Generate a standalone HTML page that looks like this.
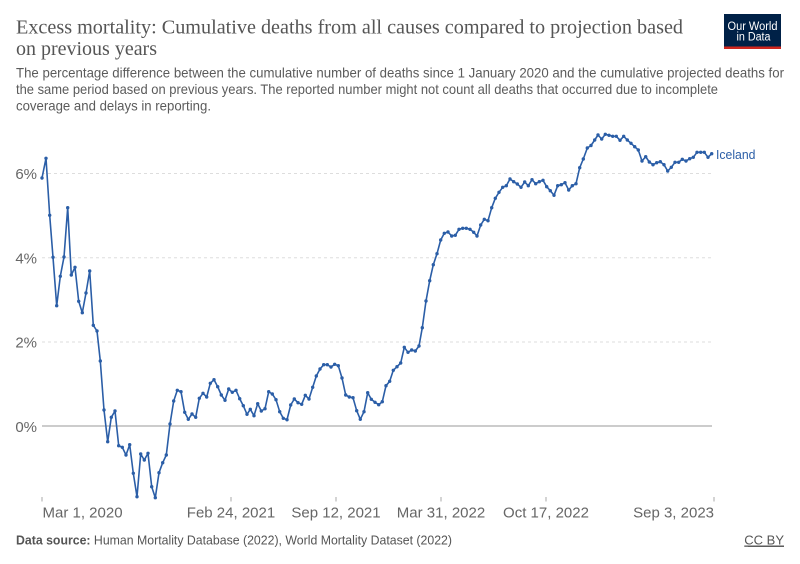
<!DOCTYPE html>
<html>
<head>
<meta charset="utf-8">
<style>
html,body{margin:0;padding:0;background:#fff;}
svg{display:block;}
</style>
</head>
<body>
<svg width="800" height="564" viewBox="0 0 800 564" xmlns="http://www.w3.org/2000/svg">
<rect x="0" y="0" width="800" height="564" fill="#fff"/>
<defs>
<marker id="d" viewBox="0 0 4 4" refX="2" refY="2" markerWidth="4" markerHeight="4" markerUnits="userSpaceOnUse">
<circle cx="2" cy="2" r="1.7" fill="#2b5ea7"/>
</marker>
</defs>

<!-- Title -->
<text x="16" y="33.3" font-family="'Liberation Serif', serif" font-size="20" fill="#555" textLength="667" lengthAdjust="spacingAndGlyphs">Excess mortality: Cumulative deaths from all causes compared to projection based</text>
<text x="16" y="55" font-family="'Liberation Serif', serif" font-size="20" fill="#555" textLength="141" lengthAdjust="spacingAndGlyphs">on previous years</text>

<!-- Subtitle -->
<g font-family="'Liberation Sans', sans-serif" font-size="13.8" fill="#5b5b5b">
<text x="16" y="77.3" textLength="768" lengthAdjust="spacingAndGlyphs">The percentage difference between the cumulative number of deaths since 1 January 2020 and the cumulative projected deaths for</text>
<text x="16" y="93.8" textLength="702" lengthAdjust="spacingAndGlyphs">the same period based on previous years. The reported number might not count all deaths that occurred due to incomplete</text>
<text x="16" y="110.3" textLength="195" lengthAdjust="spacingAndGlyphs">coverage and delays in reporting.</text>
</g>

<!-- Logo -->
<rect x="724" y="14" width="57" height="35" fill="#002147"/>
<rect x="724" y="46.5" width="57" height="2.5" fill="#ce261e"/>
<text x="752.5" y="30" text-anchor="middle" font-family="'Liberation Sans', sans-serif" font-size="11.5" fill="#fff" textLength="50" lengthAdjust="spacingAndGlyphs">Our World</text>
<text x="753.5" y="40.7" text-anchor="middle" font-family="'Liberation Sans', sans-serif" font-size="11.5" fill="#fff" textLength="34" lengthAdjust="spacingAndGlyphs">in Data</text>

<!-- Gridlines -->
<g stroke="#ddd" stroke-width="1" stroke-dasharray="3,3">
<line x1="42" y1="173.5" x2="712" y2="173.5"/>
<line x1="42" y1="257.7" x2="712" y2="257.7"/>
<line x1="42" y1="342" x2="712" y2="342"/>
</g>
<line x1="42" y1="426" x2="712" y2="426" stroke="#999" stroke-width="1"/>

<!-- Y labels -->
<g font-family="'Liberation Sans', sans-serif" font-size="15" fill="#666" text-anchor="end">
<text x="37" y="179">6%</text>
<text x="37" y="263.3">4%</text>
<text x="37" y="347.6">2%</text>
<text x="37" y="432">0%</text>
</g>

<!-- X ticks -->
<g stroke="#aaa" stroke-width="1">
<line x1="42" y1="497" x2="42" y2="501.5"/>
<line x1="231" y1="497" x2="231" y2="501.5"/>
<line x1="336" y1="497" x2="336" y2="501.5"/>
<line x1="441" y1="497" x2="441" y2="501.5"/>
<line x1="546" y1="497" x2="546" y2="501.5"/>
<line x1="714" y1="497" x2="714" y2="501.5"/>
</g>
<g font-family="'Liberation Sans', sans-serif" font-size="15" fill="#666">
<text x="42.5" y="517.3">Mar 1, 2020</text>
<text x="231" y="517.3" text-anchor="middle">Feb 24, 2021</text>
<text x="336" y="517.3" text-anchor="middle">Sep 12, 2021</text>
<text x="441" y="517.3" text-anchor="middle">Mar 31, 2022</text>
<text x="546" y="517.3" text-anchor="middle">Oct 17, 2022</text>
<text x="714" y="517.3" text-anchor="end">Sep 3, 2023</text>
</g>

<!-- Series -->
<polyline fill="none" stroke="#2b5ea7" stroke-width="1.6" stroke-linejoin="round" marker-start="url(#d)" marker-mid="url(#d)" marker-end="url(#d)"
points="42,178 46,158.3 49.7,215.3 53,257.3 56.7,305.7 60.3,276.3 64,257 67.7,207.7 71.3,275 75,267.3 78.7,301.3 82.3,312.7 86,293 89.7,271 93.3,325.3 97,331 100.3,361 104,410 107.7,441.7 111.3,417.3 115,411 118.7,445.7 122.3,447.3 126,455 129.7,444.7 133.3,473.3 137,496.7 140.7,454 144.3,460 148,453.3 151.7,486.7 155.3,497.7 159,472.7 162.7,462.7 166.3,455 170,424 173.7,401 177.3,390.3 181,391.7 184.7,412.3 188.3,419.3 192,414 195.7,417.3 199.3,398.3 203,393.3 206.7,397 210.3,383.3 214,379.7 217.7,386.7 221.3,395 225,400.3 228.7,389 232.3,392.3 236,390.3 239.7,398.7 243.3,405.7 247,414.3 250.3,409.3 254,415.7 257.7,403.7 261.3,411 265,408.7 268.7,391.7 272.3,394 276,399.7 279.7,411.7 283.3,418.3 287,419.7 290.7,405 294.3,399 298,402.7 301.7,404.3 305.3,395.3 309,399 312.7,387.3 316.3,376 320,369 323.7,364.7 327.3,364.7 331,367 334.7,364.3 338.3,365.7 342,378 345.7,395 349.3,397 353,397.7 356.7,410.7 360.3,419.3 364,411.7 367.7,392.7 371.3,399.3 375,402.3 378.7,404.7 382.3,401.7 386,385.7 389.7,381.3 393.3,370.3 397,366.7 400.7,363 404.3,347.3 408,352.3 411.7,350 415.3,351 419,346 422.3,327.7 426,301 429.7,280.7 433.3,264.7 437,253.7 440.7,240 444.3,233.3 448,232 451.7,236 455.3,235.3 459,229.3 462.7,228.3 466.3,228.3 470,229.3 473.7,232.3 477,236 480.7,225 484.3,219.3 488,220.7 491.7,207.7 495.3,198.3 499,192.3 502.7,187.3 506.3,185.7 510,179 513.7,181.7 517.3,184 521,187.3 524.7,182 528.3,185.7 532,179.7 535.7,183.7 539.3,181.7 543,180.3 546.7,186.7 550.3,190.7 554,195.3 557.7,185.7 561.3,184.7 565,182.7 568.7,190 572.3,185.7 576,183.7 579.7,167.7 583.3,159 587.3,148 591,145.5 594.7,140 598,135 601.7,139 605.3,134.3 609,135.3 612.7,136.3 616.3,136.3 620,140.3 623.7,136.3 627.3,140 631,143.3 634.7,146.7 638.3,150 642,161 645.7,156.7 649.3,162 653,164.7 656.7,162.7 660.3,161.7 664,164.7 667.7,171 671.3,167.3 675,162.3 678.7,162.3 682.3,159.3 686,161 689.7,158.7 693.3,157.3 697,152.3 700.7,152.3 704.3,152.3 708,157.3 711.7,153.7"/>

<text x="716" y="159" font-family="'Liberation Sans', sans-serif" font-size="13" fill="#2b5ea7" textLength="39.5" lengthAdjust="spacingAndGlyphs">Iceland</text>

<!-- Footer -->
<text x="16" y="544.5" font-family="'Liberation Sans', sans-serif" font-size="13" fill="#555" textLength="436" lengthAdjust="spacingAndGlyphs"><tspan font-weight="bold">Data source:</tspan> Human Mortality Database (2022), World Mortality Dataset (2022)</text>
<text x="784" y="544.5" text-anchor="end" font-family="'Liberation Sans', sans-serif" font-size="13" fill="#555" text-decoration="underline">CC BY</text>
<line x1="748" y1="546.5" x2="784" y2="546.5" stroke="#555" stroke-width="0.8"/>
</svg>
</body>
</html>
